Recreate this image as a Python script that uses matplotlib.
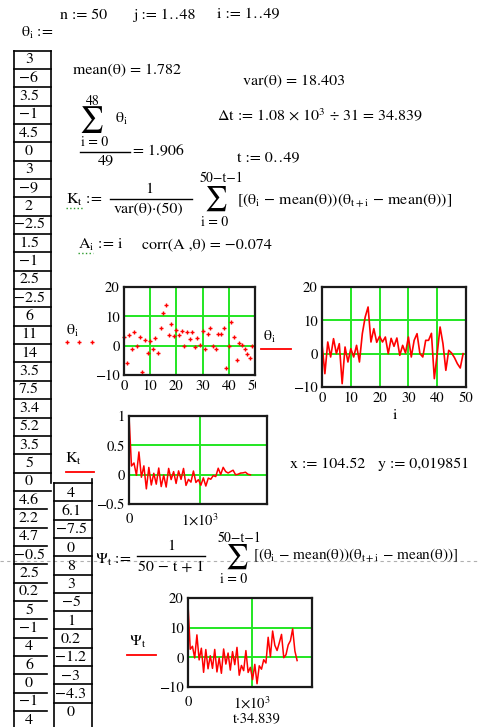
import numpy as np
import matplotlib
matplotlib.use("Agg")
import matplotlib.pyplot as plt
from matplotlib.lines import Line2D
from matplotlib.transforms import Bbox, TransformedBbox


# =========================================================
# Data (read off the worksheet)
# =========================================================

# theta vector, as typed in the input table
theta = [3, -6, 3.5, -1, 4.5, 0, 3, -9, 2, -2.5, 1.5, -1, 2.5, -2.5, 6, 11, 14,
         3.5, 7.5, 3.4, 5.2, 3.5, 5, 0, 4.6, 2.2, 4.7, -0.5, 2.5, 0.2, 5, -1, 4,
         6, 0, -1, 4, 4, 6.1, -7.5, 0, 8, 3, -5, 1, 0.2, -1.2, -3, -4.3, 0]

# autocorrelation K_t, t = 0..49
K = [1.000, 0.148, 0.199, -0.011, 0.387, -0.044, 0.150, -0.242, 0.123, -0.176,
     0.024, -0.162, 0.113, -0.203, -0.008, -0.211, 0.107, -0.084, 0.052, -0.150,
     0.065, -0.081, 0.106, -0.183, -0.080, -0.127, 0.062, -0.133, -0.085, -0.180,
     -0.054, -0.194, -0.059, -0.078, -0.015, -0.033, 0.110, 0.003, 0.125, 0.053,
     0.028, 0.053, 0.076, -0.001, 0.007, 0.027, 0.031, 0.042, 0.007, -0.002]

# covariance Psi_t, t = 0..49
Psi = [18.04, 2.72, 3.73, -0.21, 7.57, -0.87, 3.07, -5.05, 2.62, -3.86,
       0.54, -3.72, 2.66, -4.92, -0.21, -5.38, 2.81, -2.27, 1.45, -4.31,
       1.92, -2.47, 3.36, -6.03, -2.73, -4.49, 2.27, -5.09, -3.38, -7.51,
       -2.37, -8.90, -2.86, -3.99, -0.80, -1.92, 6.76, 0.17, 8.86, 4.05,
       2.30, 4.90, 7.73, -0.12, 0.88, 4.19, 5.62, 9.61, 2.15, -1.09]

dt = 34.839
col1_rows = 37

idx = np.arange(len(theta))
tau = np.arange(len(K)) * dt


# =========================================================
# Figure + helpers (pixel coordinates, y from top)
# =========================================================

W, H = 478, 727

plt.rcParams["font.family"] = "STIXGeneral"
plt.rcParams["mathtext.fontset"] = "stix"
plt.rcParams["mathtext.default"] = "regular"

fig = plt.figure(figsize=(W / 100, H / 100), dpi=100)
fig.patch.set_facecolor("white")

RED = "#ff0000"
GREEN = "#22e622"
FS = 11.5


def put(x, y, s, size=FS, ha="left", **kw):
    fig.text(x / W, 1 - y / H, s, fontsize=size, ha=ha, va="center", **kw)


def hline(x0, x1, y, **kw):
    fig.add_artist(Line2D([x0 / W, x1 / W], [1 - y / H, 1 - y / H],
                          transform=fig.transFigure, **kw))


def vline(x, y0, y1, **kw):
    fig.add_artist(Line2D([x / W, x / W], [1 - y0 / H, 1 - y1 / H],
                          transform=fig.transFigure, **kw))


def make_axes(left, top, right, bottom):
    ax = fig.add_axes([left / W, 1 - bottom / H,
                       (right - left) / W, (bottom - top) / H])
    for s in ax.spines.values():
        s.set_linewidth(1.6)
        s.set_color("#1a1a1a")
    ax.tick_params(length=0, labelsize=10.5, pad=3)
    ax.grid(True, color=GREEN, lw=1.4)
    ax.set_axisbelow(True)
    return ax


def fmt(v):
    return f"{v:g}".replace("-", "−")


# =========================================================
# Header text
# =========================================================

put(60, 15, "n := 50")
put(133, 15, "j := 1‥48")
put(217, 15, "i := 1‥49")
put(21, 33, r"$\theta_i$ :=")

put(73, 70, "mean(θ) = 1.782")
put(243, 81, "var(θ) = 18.403")
put(217, 116, r"Δt := 1.08 × 10$^3$ ÷ 31 = 34.839")

# sum / 49
put(93, 101, "48", size=10, ha="center")
put(92, 120, "∑", size=19, ha="center")
put(115, 119, r"$\theta_i$")
put(95, 142, "i = 0", size=10, ha="center")
hline(80, 130, 152, color="black", lw=1)
put(106, 161, "49", ha="center")
put(133, 152, "= 1.906")

put(237, 158, "t := 0‥49")

# K_t definition
put(66, 200, r"$K_t$ :=")
hline(66, 83, 208, color="#2a9a2a", lw=1, ls=":")
put(149, 189, "1", ha="center")
hline(110, 192, 199, color="black", lw=1)
put(149, 210, "var(θ)·(50)", ha="center")
put(222, 178, "50−t−1", size=10, ha="center")
put(216, 198, "∑", size=18, ha="center")
put(215, 222, "i = 0", size=10, ha="center")
put(237, 200, r"[($\theta_i$ − mean(θ))($\theta_{t+i}$ − mean(θ))]")

put(78, 245, r"$A_i$ := i")
hline(78, 93, 253, color="#2a9a2a", lw=1, ls=":")
put(142, 245, "corr(A ,θ) = −0.074")


# =========================================================
# theta table
# =========================================================

top1, h1 = 50.5, 18.35
for k in range(col1_rows):
    y = top1 + k * h1
    x_end = 51 if k <= 24 else 47
    hline(14, x_end, y, color="black", lw=1.2)
    put(29, y + 9, fmt(theta[k]), size=11.5, ha="center")
vline(14, top1, H, color="black", lw=1.2)
vline(51, top1, 483, color="black", lw=1.2)

top2, h2 = 483, 18.3
for k in range(len(theta) - col1_rows):
    y = top2 + k * h2
    hline(54, 92, y, color="black", lw=1.2)
    put(71, y + 10, fmt(theta[col1_rows + k]), size=11.5, ha="center")
vline(54, top2, H, color="black", lw=1.2)
vline(92, top2 - 4, H, color="black", lw=1.2)


# =========================================================
# theta_i scatter
# =========================================================

ax1 = make_axes(124, 287, 255, 375)
ax1.plot(idx, theta, ls="none", marker="+", ms=3, mew=1.0, color=RED, clip_on=False)
ax1.set_xlim(0, 50)
ax1.set_ylim(-10, 20)
ax1.set_xticks([0, 10, 20, 30, 40, 50], ["0", "10", "20", "30", "40", "50"])
ax1.set_yticks([-10, 0, 10, 20], ["−10", "0", "10", "20"])
clip = TransformedBbox(Bbox.from_extents(0, 0, 256 / W, 1), fig.transFigure)
for lbl in ax1.get_xticklabels():
    lbl.set_clip_box(clip)
    lbl.set_clip_on(True)

put(72, 331, r"$\theta_i$", ha="center")
for xm in [67, 79, 92]:
    fig.add_artist(Line2D([xm / W], [1 - 342 / H], transform=fig.transFigure,
                          marker="+", ms=3, mew=1.0, color=RED, ls="none"))

put(269, 337, r"$\theta_i$", ha="center")
hline(261, 291, 349, color=RED, lw=1.3)


# =========================================================
# theta_i line
# =========================================================

ax2 = make_axes(322, 287, 466, 387)
ax2.plot(idx, theta, color=RED, lw=1.2, clip_on=False)
ax2.set_xlim(0, 50)
ax2.set_ylim(-10, 20)
ax2.set_xticks([0, 10, 20, 30, 40, 50], ["0", "10", "20", "30", "40", "50"])
ax2.set_yticks([-10, 0, 10, 20], ["−10", "0", "10", "20"])
put(395, 415, "i", ha="center")


# =========================================================
# K_t
# =========================================================

ax3 = make_axes(129, 416, 267, 504)
ax3.plot(tau, K, color=RED, lw=1.1, clip_on=False)
ax3.set_xlim(0, 1940)
ax3.set_ylim(-0.5, 1)
ax3.set_xticks([0, 1000], ["0", r"1×10$^3$"])
ax3.set_yticks([-0.5, 0, 0.5, 1], ["−0.5", "0", "0.5", "1"])
ax3.tick_params(axis="x", pad=6)

put(73, 459, r"$K_t$", ha="center")
hline(66, 94, 472, color=RED, lw=1.3)

put(290, 464, "x := 104.52")
put(378, 464, "y := 0,019851")


# =========================================================
# Psi_t definition
# =========================================================

hline(0, 478, 561, color="#b0b0b0", lw=0.8, ls=(0, (3, 3)), zorder=0)
put(95, 560, r"$\Psi_t$ :=")
put(171, 546, "1", ha="center")
hline(137, 205, 556, color="black", lw=1)
put(171, 567, "50 − t + 1", ha="center")
put(240, 538, "50−t−1", size=10, ha="center")
put(237, 556, "∑", size=18, ha="center")
put(234, 579, "i = 0", size=10, ha="center")
put(253, 555, r"[($\theta_i$ − mean(θ))($\theta_{t+i}$ − mean(θ))]", size=11)


# =========================================================
# Psi_t
# =========================================================

ax4 = make_axes(188, 598, 312, 687)
ax4.plot(tau, Psi, color=RED, lw=1.1, clip_on=False)
ax4.set_xlim(0, 1940)
ax4.set_ylim(-10, 20)
ax4.set_xticks([0, 1000], ["0", r"1×10$^3$"])
ax4.set_yticks([-10, 0, 10, 20], ["−10", "0", "10", "20"])
ax4.tick_params(axis="x", pad=6)
put(257, 719, "t·34.839", size=10.5, ha="center")

put(138, 642, r"$\Psi_t$", ha="center")
hline(127, 156, 655, color=RED, lw=1.3)


fig.savefig("out.png", dpi=100)
